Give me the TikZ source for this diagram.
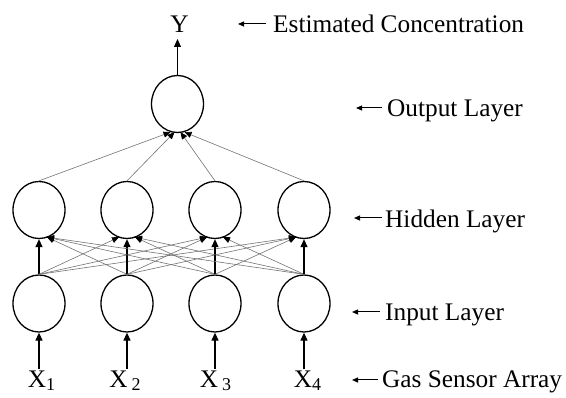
\documentclass[tikz,border=0pt]{standalone}
\usepackage{fontspec}
\setmainfont{Liberation Serif}
\usetikzlibrary{shapes.geometric,arrows.meta,calc}
\begin{document}
\begin{tikzpicture}[x=1pt,y=-1pt,
  neuron/.style={draw,ellipse,line width=1.3pt,minimum width=52pt,minimum height=57pt,inner sep=0pt},
  main/.style={line width=1.2pt,-{Triangle[length=8pt,width=7pt]}},
  link/.style={draw=black!55,line width=0.6pt,-{Triangle[length=7pt,width=6pt,color=black]}},
  lab/.style={font=\fontsize{25.3}{30}\selectfont,anchor=base west,inner sep=0pt},
  xlab/.style={font=\fontsize{25.3}{30}\selectfont,anchor=base,inner sep=0pt},
  ptr/.style={line width=1pt,-{Triangle[length=6pt,width=5pt]}},
]
\useasboundingbox (0,0) rectangle (566,398);
\newcommand{\lowsub}[1]{\raisebox{-3pt}{\fontsize{18}{18}\selectfont #1}}
% nodes
\node[neuron] (o) at (177.5,104) {};
\foreach \i/\x in {1/39,2/127,3/215,4/304} {
  \node[neuron] (h\i) at (\x,210) {};
  \node[neuron] (i\i) at (\x,303.5) {};
  \coordinate (c\i) at (\x,369);
  \draw[main] (c\i) -- (i\i.south);
}
% input labels
\node[xlab] (x1) at (41.5,388) {X\lowsub{1}};
\node[xlab] (x2) at (125,388) {X\,\lowsub{2}};
\node[xlab] (x3) at (215.5,388) {X\,\lowsub{3}};
\node[xlab] (x4) at (307.5,388) {X\lowsub{4}};
% output
\node[xlab] (y) at (179.5,33) {Y};
\coordinate (ytip) at (177.5,39);
\draw[main] (o.north) -- (ytip);
% input -> hidden
\foreach \a in {1,...,4} {
  \foreach \b in {1,...,4} {
    \ifnum\a=\b
      \draw[main] (i\a.north) -- (h\b.south);
    \else
      \pgfmathsetmacro{\dx}{\a<\b ? -8 : 8}
      \draw[link] (i\a.north) -- ($(h\b.south)+(\dx,-2)$);
    \fi
  }
}
% hidden -> output
\foreach \b/\dx in {1/-7,2/-3,3/3,4/7} {
  \draw[link] (h\b.north) -- ($(o.south)+(\dx,-1)$);
}
% right-hand labels
\node[lab] (le) at (273,33) {Estimated Concentration};
\node[lab] (lo) at (387,117) {Output Layer};
\node[lab] (lh) at (385,228) {Hidden Layer};
\node[lab] (li) at (385,321) {Input Layer};
\node[lab] (lg) at (382,388) {Gas Sensor Array};
\coordinate (pe) at (238,24);
\coordinate (po) at (356,108);
\coordinate (ph) at (354,218);
\coordinate (pi) at (352,312);
\coordinate (pg) at (352,380);
\draw[ptr] ($(le.base west)+(-7,-9)$) -- (pe);
\draw[ptr] ($(lo.base west)+(-5,-9)$) -- (po);
\draw[ptr] ($(lh.base west)+(-3,-10)$) -- (ph);
\draw[ptr] ($(li.base west)+(-5,-9)$) -- (pi);
\draw[ptr] ($(lg.base west)+(-4,-8)$) -- (pg);
\end{tikzpicture}
\end{document}
